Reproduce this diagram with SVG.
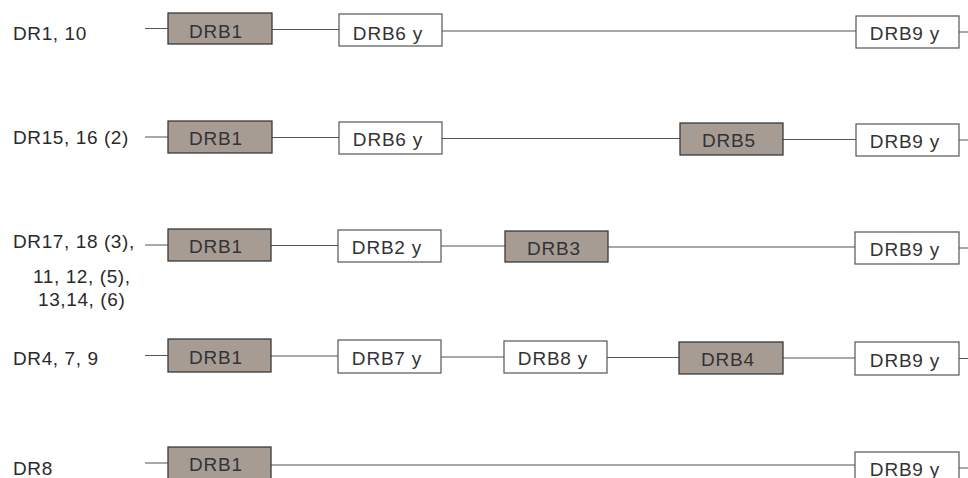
<svg xmlns="http://www.w3.org/2000/svg" width="968" height="478" viewBox="0 0 968 478">
<style>
.lbl{font-family:"Liberation Sans",Arial,sans-serif;font-size:19px;letter-spacing:0.6px;fill:#2a2a2a}
.bt{font-family:"Liberation Sans",Arial,sans-serif;font-size:19px;letter-spacing:0.8px;fill:#333;text-anchor:middle}
.sh{fill:#a69c94;stroke:#3a3a3a;stroke-width:1.3}
.wh{fill:#fff;stroke:#555;stroke-width:1.2}
.ln{stroke:#555;stroke-width:1.2;fill:none}
</style>
<rect width="968" height="478" fill="#fff"/>
<g id="labels">
<text class="lbl" x="13" y="40">DR1, 10</text>
<text class="lbl" x="13" y="144">DR15, 16 (2)</text>
<text class="lbl" x="13" y="248">DR17, 18 (3),</text>
<text class="lbl" x="33" y="283">11, 12, (5),</text>
<text class="lbl" x="38" y="306">13,14, (6)</text>
<text class="lbl" x="13" y="365">DR4, 7, 9</text>
<text class="lbl" x="13" y="475">DR8</text>
</g>
<g id="connectors">
<path class="ln" d="M145 28.5H168M272 29.5H339M442 31H856M959 32H968"/>
<path class="ln" d="M145 137H168M272 137.5H339M442 138.5H680M783 139.5H856M959 140H968"/>
<path class="ln" d="M145 245H168M271 245.5H338M441 246H505M608 247H855M959 248H968"/>
<path class="ln" d="M145 355.5H168M271 356H338M441 357H504M607 357.5H679M783 358H855M959 358.5H968"/>
<path class="ln" d="M145 463H168M271 465H855M959 468H968"/>
</g>
<g id="r1-drb1"><rect class="sh" x="168" y="13" width="104" height="31"/><text class="bt" x="216" y="38">DRB1</text></g>
<g id="r1-drb6"><rect class="wh" x="339" y="14" width="103" height="32"/><text class="bt" x="388" y="39.5">DRB6 y</text></g>
<g id="r1-drb9"><rect class="wh" x="856" y="16" width="103" height="32"/><text class="bt" x="905" y="39.5">DRB9 y</text></g>

<g id="r2-drb1"><rect class="sh" x="168" y="121" width="104" height="32"/><text class="bt" x="216" y="145">DRB1</text></g>
<g id="r2-drb6"><rect class="wh" x="339" y="122" width="103" height="32"/><text class="bt" x="388" y="146">DRB6 y</text></g>
<g id="r2-drb5"><rect class="sh" x="680" y="123" width="103" height="32"/><text class="bt" x="729" y="147">DRB5</text></g>
<g id="r2-drb9"><rect class="wh" x="856" y="124" width="103" height="32"/><text class="bt" x="905" y="148">DRB9 y</text></g>

<g id="r3-drb1"><rect class="sh" x="168" y="229" width="103" height="32"/><text class="bt" x="216" y="253">DRB1</text></g>
<g id="r3-drb2"><rect class="wh" x="338" y="230" width="103" height="32"/><text class="bt" x="387" y="254">DRB2 y</text></g>
<g id="r3-drb3"><rect class="sh" x="505" y="231" width="103" height="31"/><text class="bt" x="554" y="254.5">DRB3</text></g>
<g id="r3-drb9"><rect class="wh" x="855" y="232" width="104" height="32"/><text class="bt" x="905" y="256">DRB9 y</text></g>

<g id="r4-drb1"><rect class="sh" x="168" y="339" width="103" height="33"/><text class="bt" x="216" y="363.5">DRB1</text></g>
<g id="r4-drb7"><rect class="wh" x="338" y="340" width="103" height="33"/><text class="bt" x="387" y="364.5">DRB7 y</text></g>
<g id="r4-drb8"><rect class="wh" x="504" y="341" width="103" height="32"/><text class="bt" x="553" y="365">DRB8 y</text></g>
<g id="r4-drb4"><rect class="sh" x="679" y="342" width="104" height="32"/><text class="bt" x="728" y="366">DRB4</text></g>
<g id="r4-drb9"><rect class="wh" x="855" y="342" width="104" height="33"/><text class="bt" x="905" y="366.5">DRB9 y</text></g>

<g id="r5-drb1"><rect class="sh" x="168" y="447" width="103" height="32"/><text class="bt" x="216" y="471">DRB1</text></g>
<g id="r5-drb9"><rect class="wh" x="855" y="452" width="104" height="32"/><text class="bt" x="905" y="476">DRB9 y</text></g>
</svg>
